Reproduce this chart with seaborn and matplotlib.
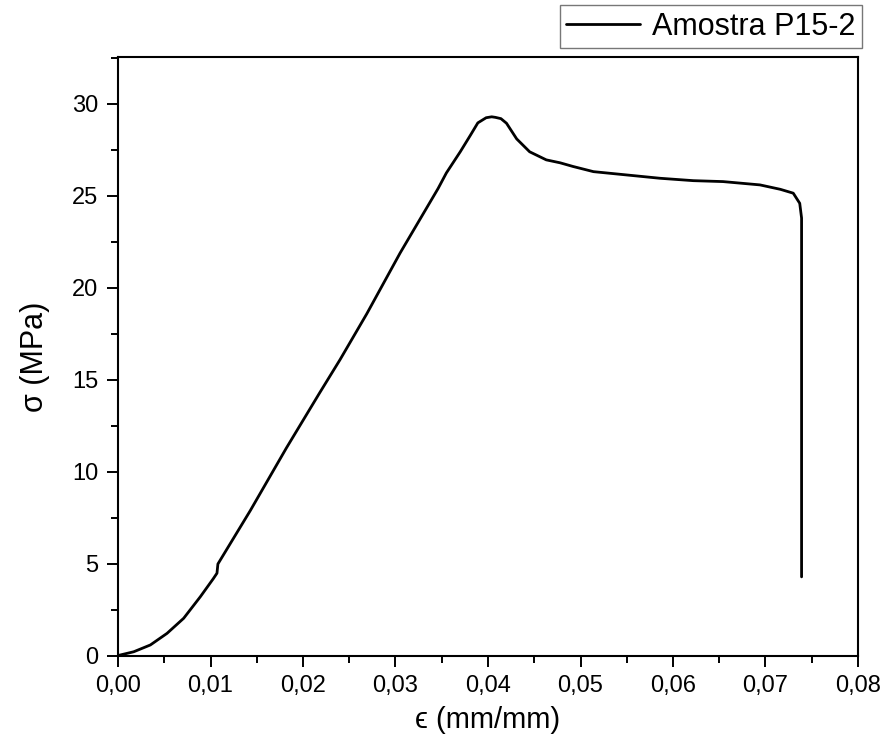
import matplotlib
matplotlib.use("Agg")
import matplotlib.pyplot as plt
import seaborn as sns
import pandas as pd
from matplotlib.ticker import MultipleLocator, FuncFormatter

strain = [0.0, 0.0002, 0.0017, 0.0035, 0.0053, 0.0071, 0.0089, 0.0103, 0.0107, 0.0108,
          0.0143, 0.0182, 0.0218, 0.0240, 0.0269, 0.0305, 0.0346, 0.0355, 0.0370,
          0.0381, 0.0389, 0.0398, 0.0404, 0.0408, 0.0414, 0.0420, 0.0431, 0.0445,
          0.0463, 0.0478, 0.0492, 0.0514, 0.0550, 0.0586, 0.0622, 0.0654, 0.0694,
          0.0716, 0.0730, 0.0737, 0.0739, 0.0739]
stress = [0.0, 0.05, 0.23, 0.6, 1.23, 2.05, 3.22, 4.2, 4.5, 5.0,
          7.9, 11.3, 14.3, 16.1, 18.6, 21.9, 25.4, 26.25, 27.4,
          28.3, 28.97, 29.25, 29.3, 29.27, 29.2, 28.95, 28.1, 27.4,
          26.96, 26.8, 26.6, 26.32, 26.14, 25.96, 25.83, 25.78, 25.6,
          25.36, 25.15, 24.6, 23.8, 4.3]
series_name = "Amostra P15-2"
x_ticks = [0.00, 0.01, 0.02, 0.03, 0.04, 0.05, 0.06, 0.07, 0.08]
y_ticks = [0, 5, 10, 15, 20, 25, 30]

df = pd.DataFrame({"strain": strain, "stress": stress, "serie": series_name})

sns.set_style("white")
plt.rcParams["font.family"] = ["Liberation Sans", "DejaVu Sans"]
plt.rcParams["text.color"] = "black"
plt.rcParams["axes.labelcolor"] = "black"
plt.rcParams["xtick.color"] = "black"
plt.rcParams["ytick.color"] = "black"

fig = plt.figure(figsize=(8.85, 7.49), dpi=100)
ax = fig.add_axes([118/885, 1 - 656/749, (858-118)/885, (656-57)/749])

sns.lineplot(data=df, x="strain", y="stress", hue="serie", sort=False,
             palette=["black"], linewidth=2.0, ax=ax, estimator=None)

ax.set_xlim(0, 0.08)
ax.set_ylim(0, 32.55)
ax.set_xticks(x_ticks)
ax.set_yticks(y_ticks)
ax.xaxis.set_minor_locator(MultipleLocator(0.005))
ax.yaxis.set_minor_locator(MultipleLocator(2.5))
ax.xaxis.set_major_formatter(FuncFormatter(lambda v, p: f"{v:.2f}".replace(".", ",")))
ax.yaxis.set_major_formatter(FuncFormatter(lambda v, p: f"{v:.0f}"))

for s in ax.spines.values():
    s.set_linewidth(1.5)
    s.set_color("black")

ax.tick_params(axis="both", which="major", direction="out", length=8, width=1.4,
               labelsize=17, top=False, right=False, bottom=True, left=True, pad=6,
               colors="black")
ax.tick_params(axis="both", which="minor", direction="out", length=5, width=1.4,
               top=False, right=False, bottom=True, left=True, colors="black")

ax.set_xlabel("ϵ (mm/mm)", fontsize=21, labelpad=6, color="black")
ax.set_ylabel("σ (MPa)", fontsize=22, labelpad=16, color="black")

ax.get_legend().remove()
handles, labels = ax.get_legend_handles_labels()
leg = fig.legend(handles, labels, loc="upper right",
                 bbox_to_anchor=(862/885, 1 - 5/749), fontsize=22,
                 frameon=True, fancybox=False, handlelength=2.4,
                 borderaxespad=0, borderpad=0.22, handletextpad=0.4)
leg.get_frame().set_edgecolor("#555555")
leg.get_frame().set_linewidth(1.0)
for t in leg.get_texts():
    t.set_color("black")

fig.savefig("out.png", dpi=100)
